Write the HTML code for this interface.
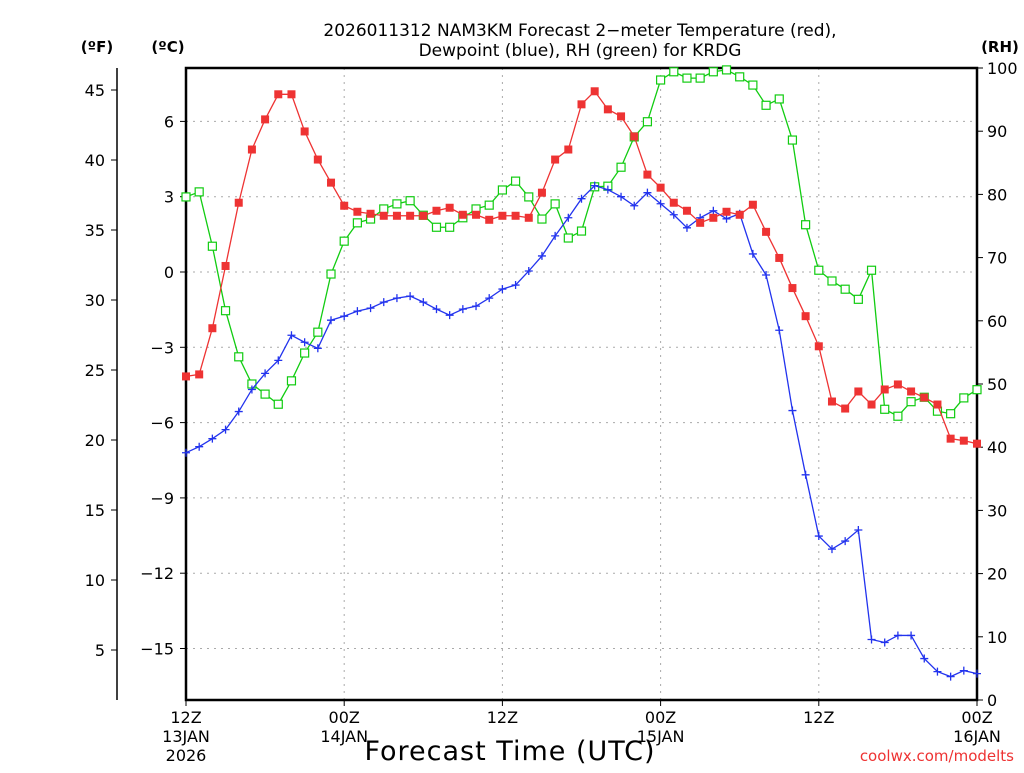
<!DOCTYPE html>
<html><head><meta charset="utf-8"><style>
body{margin:0;background:#fff;}
svg text{font-family:"DejaVu Sans","Liberation Sans",sans-serif;}
</style></head><body>
<svg id="c" width="1024" height="768" xmlns="http://www.w3.org/2000/svg"></svg>
<script>
const tempC=[-4.16,-4.08,-2.24,0.24,2.76,4.88,6.08,7.08,7.08,5.6,4.48,3.56,2.64,2.4,2.32,2.24,2.24,2.24,2.24,2.44,2.56,2.28,2.28,2.08,2.24,2.24,2.16,3.16,4.48,4.88,6.68,7.2,6.48,6.2,5.4,3.88,3.36,2.76,2.44,1.96,2.16,2.4,2.28,2.68,1.6,0.56,-0.64,-1.76,-2.96,-5.16,-5.44,-4.76,-5.28,-4.68,-4.48,-4.76,-5.0,-5.28,-6.64,-6.72,-6.84];
const dewY=[452,446,438,429,411,389,373,360,335,342,348,320,316,311,308,302,298,296,302,309,315,309,306,298,289,285,271,256,236,218,199,186,190,197,206,193,204,215,228,218,211,219,214,254,275,330,410,474,535,548,540,529,638,641,634,634,657,670,675,669,672];
const dewC=dewY.map(v=>+((272-v)/25).toFixed(2));
const rh=[79.6,80.4,71.8,61.6,54.3,50.0,48.4,46.8,50.5,54.9,58.2,67.4,72.6,75.5,76.1,77.7,78.5,79.0,76.7,74.8,74.8,76.3,77.7,78.3,80.7,82.1,79.6,76.1,78.5,73.1,74.2,81.2,81.3,84.3,89.1,91.5,98.1,99.4,98.4,98.4,99.4,99.7,98.6,97.3,94.1,95.1,88.6,75.2,68.0,66.3,65.0,63.4,68.0,46.0,44.9,47.2,47.9,45.7,45.3,47.8,49.1];
const cTicks=[6,3,0,-3,-6,-9,-12,-15];
const fTicks=[45,40,35,30,25,20,15,10,5];
const rhTicks=[0,10,20,30,40,50,60,70,80,90,100];
const xTicks=[[0,"12Z","13JAN","2026"],[12,"00Z","14JAN",""],[24,"12Z","",""],[36,"00Z","15JAN",""],[48,"12Z","",""],[60,"00Z","16JAN",""]];
const L=186,R=977,T=68,B=700;
const X=h=>L+h*(R-L)/60;
const YC=c=>272-c*25.1;
const YF=f=>272-(f-32)*14;
const YR=r=>B-r*(B-T)/100;
const svg=document.getElementById('c');const NS="http://www.w3.org/2000/svg";
function el(t,a,p){const e=document.createElementNS(NS,t);for(const k in a)e.setAttribute(k,a[k]);(p||svg).appendChild(e);return e;}
function tx(x,y,s,a,n,size){const e=el('text',{x:x,y:y,'text-anchor':a||'middle','font-size':size||15,fill:'#000'});e.textContent=s;return e;}
// grid
xTicks.slice(1,5).forEach(t=>{const g=el('line',{x1:X(t[0]),x2:X(t[0]),y1:T,y2:B,stroke:'#aaa','stroke-dasharray':'2,5'});});
cTicks.forEach(c=>{const g=el('line',{x1:L,x2:R,y1:YC(c),y2:YC(c),stroke:'#aaa','stroke-dasharray':'2,5'});
 el('line',{x1:L-6,x2:L,y1:YC(c),y2:YC(c),stroke:'#000'});tx(L-12,YC(c)+6,String(c).replace('-','−'),'end','celsius-tick-label',16);});
// F axis
const fa=el('line',{x1:117,x2:117,y1:T,y2:B,stroke:'#000','stroke-width':1.5});
fTicks.forEach(f=>{el('line',{x1:111,x2:117,y1:YF(f),y2:YF(f),stroke:'#000'});tx(105,YF(f)+6,String(f),'end','fahrenheit-tick-label',16);});
rhTicks.forEach(r=>{el('line',{x1:R,x2:R+6,y1:YR(r),y2:YR(r),stroke:'#000'});tx(R+10,YR(r)+6,String(r),'start','rh-tick-label',16);});
xTicks.forEach(t=>{el('line',{x1:X(t[0]),x2:X(t[0]),y1:B,y2:B+6,stroke:'#000'});tx(X(t[0]),B+23,t[1],'middle','x-tick-label',16);if(t[2])tx(X(t[0]),B+42,t[2],'middle','x-date-label',16);if(t[3])tx(X(t[0]),B+61,t[3],'middle','x-year-label',16);});
const box=el('rect',{x:L,y:T,width:R-L,height:B-T,fill:'none',stroke:'#000','stroke-width':2.5});
function series(vals,yf,color,name,mk){const g=el('g',{});
 el('polyline',{points:vals.map((v,i)=>X(i)+','+yf(v)).join(' '),fill:'none',stroke:color,'stroke-width':1.3},g);
 vals.forEach((v,i)=>{const x=X(i),y=yf(v);let m;
  if(mk==='sq')m=el('rect',{x:x-4,y:y-4,width:8,height:8,fill:color},g);
  else if(mk==='open')m=el('rect',{x:x-4,y:y-4,width:8,height:8,fill:'#fff',stroke:color,'stroke-width':1.2},g);
  else m=el('path',{d:`M${x-4} ${y}H${x+4}M${x} ${y-4}V${y+4}`,stroke:color,'stroke-width':1.3},g);
  });}
series(rh,YR,'#11cc11','rh-series','open');
series(dewC,YC,'#2233ee','dewpoint-series','plus');
series(tempC,YC,'#ee3333','temperature-series','sq');
tx(580,36,'2026011312 NAM3KM Forecast 2−meter Temperature (red),','middle','chart-title-line1',17);
tx(580,56,'Dewpoint (blue), RH (green) for KRDG','middle','chart-title-line2',17);
const a=tx(97,52,'(ºF)','middle','fahrenheit-unit',15);a.setAttribute('font-weight','bold');
const b=tx(168,52,'(ºC)','middle','celsius-unit',15);b.setAttribute('font-weight','bold');
const c=tx(1000,52,'(RH)','middle','rh-unit',15);c.setAttribute('font-weight','bold');
const xt=tx(510,760,'Forecast Time (UTC)','middle','x-axis-title',27);xt.setAttribute('letter-spacing','1');
const cr=tx(1014,761,'coolwx.com/modelts','end','credit-label',15);cr.setAttribute('fill','#ee3333');
</script>
</body></html>
